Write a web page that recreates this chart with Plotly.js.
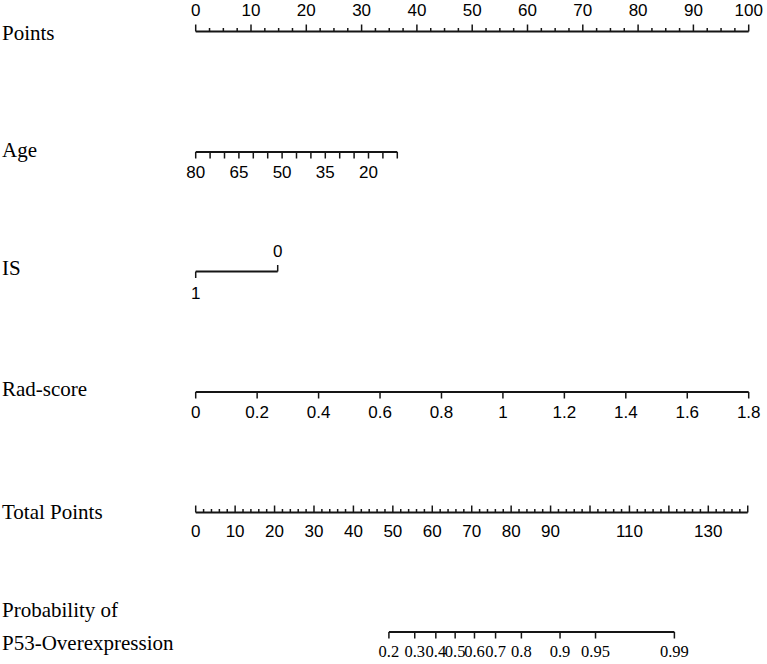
<!DOCTYPE html>
<html>
<head>
<meta charset="utf-8">
<script src="https://cdn.plot.ly/plotly-3.0.1.min.js"></script>
<style>
  html, body { margin: 0; padding: 0; background: #fff; }
  #chart { width: 767px; height: 664px; }
</style>
</head>
<body>
<div id="chart"></div>
<script>
// ---- Nomogram scales (values) ----
const pointsMajor = [0, 10, 20, 30, 40, 50, 60, 70, 80, 90, 100];
const pointsMinorStep = 2.5;

const ageTicks = [80, 75, 70, 65, 60, 55, 50, 45, 40, 35, 30, 25, 20, 15, 10];
const ageLabels = [80, 65, 50, 35, 20];

const isLevels = [1, 0];

const radTicks = [0, 0.2, 0.4, 0.6, 0.8, 1, 1.2, 1.4, 1.6, 1.8];
const radLabels = ['0', '0.2', '0.4', '0.6', '0.8', '1', '1.2', '1.4', '1.6', '1.8'];

const totalMax = 140;
const totalMajor = [0, 10, 20, 30, 40, 50, 60, 70, 80, 90, 100, 110, 120, 130, 140];
const totalLabels = [0, 10, 20, 30, 40, 50, 60, 70, 80, 90, 110, 130];
const totalMinorStep = 2;

const probLabels = ['0.2', '0.3', '0.4', '0.5', '0.6', '0.7', '0.8', '0.9', '0.95', '0.99'];
const probTotalPoints = [49.0, 55.55, 60.9, 65.8, 70.7, 76.05, 82.6, 92.4, 101.4, 121.4];

const rowNames = ['Points', 'Age', 'IS', 'Rad-score', 'Total Points', 'Probability of', 'P53-Overexpression'];

// ---- Layout geometry ----
const W = 767, H = 664;
const ROW_Y = { points: 31.5, age: 152, is: 271.5, rad: 392, total: 512.5, prob: 632 };
const NAME_Y = [33, 150, 268, 389, 512, 610, 643];
const INK = '#151515';
const SANS = 'Liberation Sans, Arial, sans-serif';
const SERIF = 'Liberation Serif, Times New Roman, serif';

// map a value pair to screen pixels and return the full-width axis range
function spanRange(v0, px0, v1, px1) {
  const k = (v1 - v0) / (px1 - px0);
  return [v0 - px0 * k, v0 + (W - px0) * k];
}

function segs(vals, y0, y1) {
  const x = [], y = [];
  vals.forEach(v => { x.push(v, v, null); y.push(y0, y1, null); });
  return { x, y };
}

function seq(a, b, step) {
  const out = [];
  for (let v = a; v <= b + 1e-9; v += step) out.push(+v.toFixed(6));
  return out;
}

const traces = [];
function line(xa, x0, x1, y) {
  traces.push({ type: 'scatter', mode: 'lines', xaxis: xa, yaxis: 'y',
    x: [x0, x1], y: [y, y], line: { color: INK, width: 1.9 }, hoverinfo: 'skip' });
}
function ticks(xa, vals, y0, y1, w) {
  const s = segs(vals, y0, y1);
  traces.push({ type: 'scatter', mode: 'lines', xaxis: xa, yaxis: 'y',
    x: s.x, y: s.y, line: { color: INK, width: w || 1.5 }, hoverinfo: 'skip' });
}
function labels(xa, xs, texts, y, font) {
  traces.push({ type: 'scatter', mode: 'text', xaxis: xa, yaxis: 'y',
    x: xs, y: xs.map(() => y), text: texts.map(String), textposition: 'middle center',
    textfont: font, cliponaxis: false, hoverinfo: 'skip' });
}

const tickFont = { family: SANS, size: 17, color: '#000' };
const probFont = { family: SERIF, size: 16.5, color: '#000' };

// Points
line('x', 0, 100, ROW_Y.points);
ticks('x', pointsMajor, ROW_Y.points, ROW_Y.points - 7);
ticks('x', seq(0, 100, pointsMinorStep).filter(v => v % 10 !== 0), ROW_Y.points, ROW_Y.points - 3.5);
labels('x', pointsMajor, pointsMajor, 12, tickFont);

// Age
line('x3', ageTicks[0], ageTicks[ageTicks.length - 1], ROW_Y.age);
ticks('x3', ageTicks, ROW_Y.age, ROW_Y.age + 6.5);
labels('x3', ageLabels, ageLabels, 174, tickFont);

// IS
line('x4', isLevels[0], isLevels[1], ROW_Y.is);
ticks('x4', [isLevels[1]], ROW_Y.is, ROW_Y.is - 6.5);
ticks('x4', [isLevels[0]], ROW_Y.is, ROW_Y.is + 6.5);
labels('x4', [isLevels[1]], [isLevels[1]], 253, tickFont);
labels('x4', [isLevels[0]], [isLevels[0]], 295, tickFont);

// Rad-score
line('x5', radTicks[0], radTicks[radTicks.length - 1], ROW_Y.rad);
ticks('x5', radTicks, ROW_Y.rad, ROW_Y.rad + 6.5);
labels('x5', radTicks, radLabels, 414, tickFont);

// Total Points
line('x2', 0, totalMax, ROW_Y.total);
ticks('x2', totalMajor, ROW_Y.total, ROW_Y.total - 7);
ticks('x2', seq(0, totalMax, totalMinorStep).filter(v => v % 10 !== 0), ROW_Y.total, ROW_Y.total - 3.5);
labels('x2', totalLabels, totalLabels, 533, tickFont);

// Probability
line('x2', probTotalPoints[0], probTotalPoints[probTotalPoints.length - 1], ROW_Y.prob);
ticks('x2', probTotalPoints, ROW_Y.prob, ROW_Y.prob + 6.5);
labels('x2', probTotalPoints, probLabels, 653, probFont);

const hidden = { visible: false, fixedrange: true, domain: [0, 1], anchor: 'y' };

const layout = {
  width: W, height: H,
  margin: { l: 0, r: 0, t: 0, b: 0, pad: 0 },
  paper_bgcolor: '#fff', plot_bgcolor: '#fff',
  showlegend: false,
  xaxis: Object.assign({}, hidden, { range: spanRange(0, 195.7, 100, 748.7) }),
  xaxis2: Object.assign({}, hidden, { overlaying: 'x', range: spanRange(0, 195.7, 130, 708.3) }),
  xaxis3: Object.assign({}, hidden, { overlaying: 'x', range: spanRange(80, 195.7, 10, 397.3) }),
  xaxis4: Object.assign({}, hidden, { overlaying: 'x', range: spanRange(1, 195.7, 0, 277.7) }),
  xaxis5: Object.assign({}, hidden, { overlaying: 'x', range: spanRange(0, 195.7, 1.8, 748.7) }),
  yaxis: { visible: false, fixedrange: true, domain: [0, 1], range: [H, 0], anchor: 'x' },
  annotations: rowNames.map((t, i) => ({
    text: t, xref: 'paper', yref: 'y', x: 0, y: NAME_Y[i],
    xanchor: 'left', yanchor: 'middle', showarrow: false,
    font: { family: SERIF, size: 21, color: '#000' }
  }))
};

Plotly.newPlot('chart', traces, layout, { staticPlot: true, displayModeBar: false });
</script>
</body>
</html>
